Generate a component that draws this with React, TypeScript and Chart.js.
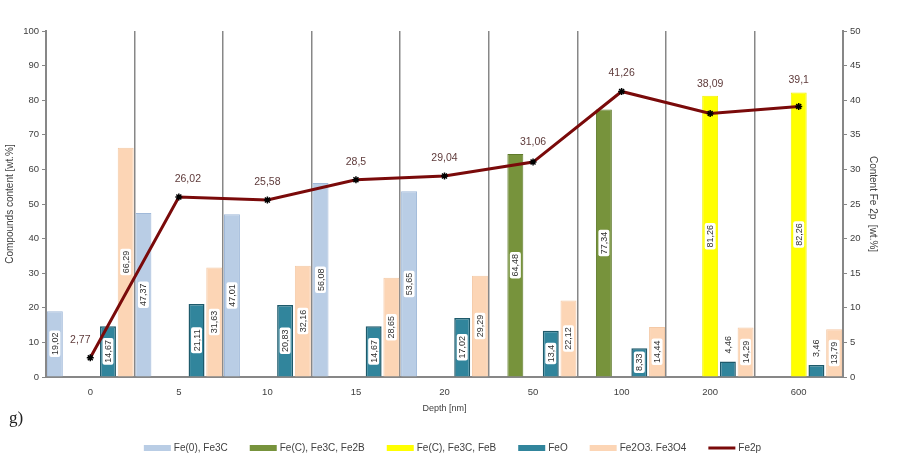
import React, { useEffect, useRef } from "react";
import { Chart, registerables } from "chart.js";

Chart.register(...registerables);

// Depth categories [nm]
const depths = ["0", "5", "10", "15", "20", "50", "100", "200", "600"];

// Compound contents [wt.%] per depth
const fe0Fe3C = [19.02, 47.37, 47.01, 56.08, 53.65, null, null, null, null];
const feCFe3CFe2B = [null, null, null, null, null, 64.48, 77.34, null, null];
const feCFe3CFeB = [null, null, null, null, null, null, null, 81.26, 82.26];
const feO = [14.67, 21.11, 20.83, 14.67, 17.02, 13.4, 8.33, 4.46, 3.46];
const fe2O3Fe3O4 = [66.29, 31.63, 32.16, 28.65, 29.29, 22.12, 14.44, 14.29, 13.79];

// Fe 2p content [wt.%] (right axis)
const fe2p = [2.77, 26.02, 25.58, 28.5, 29.04, 31.06, 41.26, 38.09, 39.1];

const leftAxisMax = 100;
const leftAxisStep = 10;
const rightAxisMax = 50;
const rightAxisStep = 5;

const SANS = '"Liberation Sans", Arial, sans-serif';
const TEXT = "#404040";
const AXIS = "#878787";

const fmt = (v: number) => String(v).replace(".", ",");

const barLabelPlugin = {
  id: "barLabels",
  afterDatasetsDraw(chart: any) {
    const ctx = chart.ctx;
    ctx.save();
    ctx.font = `9px ${SANS}`;
    ctx.textAlign = "center";
    ctx.textBaseline = "middle";
    chart.data.datasets.forEach((ds: any, i: number) => {
      if (ds.type !== "bar") return;
      const meta = chart.getDatasetMeta(i);
      meta.data.forEach((el: any, j: number) => {
        const v = ds.data[j];
        if (v == null) return;
        const { x, y, base } = el.getProps(["x", "y", "base"], true);
        const text = fmt(v);
        const w = ctx.measureText(text).width;
        const h = base - y;
        const cy = h >= w + 8 ? (y + base) / 2 : y - w / 2 - 8;
        ctx.save();
        ctx.translate(x, cy);
        ctx.rotate(-Math.PI / 2);
        ctx.fillStyle = "#ffffff";
        ctx.beginPath();
        (ctx as any).roundRect(-w / 2 - 2, -5.5, w + 4, 11, 2);
        ctx.fill();
        ctx.fillStyle = "#303030";
        ctx.fillText(text, 0, 0.5);
        ctx.restore();
      });
    });
    ctx.restore();
  },
};

const lineLabelPlugin = {
  id: "lineLabels",
  afterDatasetsDraw(chart: any) {
    const ctx = chart.ctx;
    const idx = chart.data.datasets.findIndex((d: any) => d.type === "line");
    if (idx < 0) return;
    const ds = chart.data.datasets[idx];
    const meta = chart.getDatasetMeta(idx);
    const shiftX = [-10, 9];
    ctx.save();
    ctx.font = `10.5px ${SANS}`;
    ctx.textAlign = "center";
    ctx.textBaseline = "middle";
    ctx.fillStyle = "#5e3a3a";
    meta.data.forEach((pt: any, j: number) => {
      const text = fmt(ds.data[j]);
      const w = ctx.measureText(text).width;
      const x = pt.x + (shiftX[j] || 0);
      let y = pt.y - 18;
      chart.data.datasets.forEach((b: any, i: number) => {
        if (b.type !== "bar" || b.data[j] == null) return;
        const el = chart.getDatasetMeta(i).data[j];
        const { x: bx, y: by, width: bw } = el.getProps(["x", "y", "width"], true);
        if (bx + bw / 2 > x - w / 2 && bx - bw / 2 < x + w / 2) {
          y = Math.min(y, by - 12);
        }
      });
      ctx.fillText(text, x, y);
    });
    ctx.restore();
  },
};

const legendPlugin = {
  id: "manualLegend",
  afterDraw(chart: any) {
    const ctx = chart.ctx;
    const boxW = 27;
    const gap = 3;
    const itemGap = 22;
    const cy = 448;
    ctx.save();
    ctx.font = `10px ${SANS}`;
    ctx.textBaseline = "middle";
    const items = chart.data.datasets.map((d: any) => ({
      label: d.label,
      color: d.type === "line" ? d.borderColor : d.backgroundColor,
      isLine: d.type === "line",
      w: ctx.measureText(d.label).width,
    }));
    const total =
      items.reduce((s: number, it: any) => s + boxW + gap + it.w, 0) + itemGap * (items.length - 1);
    let x = chart.width / 2 - total / 2 + 4;
    items.forEach((it: any) => {
      ctx.fillStyle = it.color;
      if (it.isLine) {
        ctx.fillRect(x, cy - 1.5, boxW, 3);
      } else {
        ctx.fillRect(x, cy - 3, boxW, 6);
      }
      ctx.fillStyle = TEXT;
      ctx.textAlign = "left";
      ctx.fillText(it.label, x + boxW + gap, cy);
      x += boxW + gap + it.w + itemGap;
    });
    // panel letter
    ctx.font = '17px "Liberation Serif", "Times New Roman", serif';
    ctx.fillStyle = "#222222";
    ctx.textBaseline = "alphabetic";
    ctx.fillText("g)", 9, 423);
    ctx.restore();
  },
};

export default function App() {
  const ref = useRef<HTMLCanvasElement | null>(null);

  useEffect(() => {
    if (!ref.current) return;
    const chart = new Chart(ref.current, {
      type: "bar",
      data: {
        labels: depths,
        datasets: [
          {
            type: "bar",
            label: "Fe(0), Fe3C",
            data: fe0Fe3C,
            backgroundColor: "#B9CDE5",
            borderColor: "#A0B9D9",
            borderWidth: 1,
            yAxisID: "y",
            order: 1,
          },
          {
            type: "bar",
            label: "Fe(C), Fe3C, Fe2B",
            data: feCFe3CFe2B,
            backgroundColor: "#77933C",
            borderColor: "#5F7A2B",
            borderWidth: 1,
            yAxisID: "y",
            order: 1,
          },
          {
            type: "bar",
            label: "Fe(C), Fe3C, FeB",
            data: feCFe3CFeB,
            backgroundColor: "#FFFF00",
            borderColor: "#F2F200",
            borderWidth: 1,
            yAxisID: "y",
            order: 1,
          },
          {
            type: "bar",
            label: "FeO",
            data: feO,
            backgroundColor: "#31859C",
            borderColor: "#1E5A6B",
            borderWidth: 1.5,
            yAxisID: "y",
            order: 1,
          },
          {
            type: "bar",
            label: "Fe2O3. Fe3O4",
            data: fe2O3Fe3O4,
            backgroundColor: "#FCD5B5",
            borderColor: "#F4C9A6",
            borderWidth: 1,
            yAxisID: "y",
            order: 1,
          },
          {
            type: "line",
            label: "Fe2p",
            data: fe2p,
            borderColor: "#7A0A0A",
            backgroundColor: "#7A0A0A",
            borderWidth: 3,
            pointStyle: "star",
            pointRadius: 3.5,
            pointBorderColor: "#000000",
            pointBackgroundColor: "#000000",
            pointBorderWidth: 1.5,
            yAxisID: "y1",
            order: 0,
          },
        ] as any,
      },
      options: {
        responsive: false,
        devicePixelRatio: 1,
        animation: false,
        layout: { padding: { top: 31, left: 0, right: 0, bottom: 23 } },
        datasets: {
          bar: { categoryPercentage: 1, barPercentage: 0.9 },
        },
        plugins: {
          legend: { display: false },
          tooltip: { enabled: false },
        },
        scales: {
          x: {
            grid: { offset: true, color: AXIS, lineWidth: 1.5, drawTicks: false },
            border: { color: AXIS, width: 2 },
            ticks: { color: TEXT, font: { family: SANS, size: 9.5 }, padding: 10 },
            title: {
              display: true,
              text: "Depth [nm]",
              color: TEXT,
              font: { family: SANS, size: 9 },
              padding: { top: 0, bottom: 25 },
            },
            afterFit: (s: any) => {
              s.height = 62;
            },
          },
          y: {
            position: "left",
            min: 0,
            max: leftAxisMax,
            ticks: { stepSize: leftAxisStep, color: TEXT, font: { family: SANS, size: 9.5 }, padding: 3 },
            grid: { drawOnChartArea: false, color: AXIS, tickLength: 4 },
            border: { color: AXIS, width: 2 },
            title: {
              display: true,
              text: "Compounds content [wt.%]",
              color: TEXT,
              font: { family: SANS, size: 10 },
              padding: { top: 4, bottom: 0 },
            },
            afterFit: (s: any) => {
              s.width = 46;
            },
          },
          y1: {
            position: "right",
            min: 0,
            max: rightAxisMax,
            ticks: { stepSize: rightAxisStep, color: TEXT, font: { family: SANS, size: 9.5 }, padding: 3 },
            grid: { drawOnChartArea: false, color: AXIS, tickLength: 4 },
            border: { color: AXIS, width: 2 },
            title: {
              display: true,
              text: "Content Fe 2p  [wt.%]",
              color: TEXT,
              font: { family: SANS, size: 10 },
              padding: { top: 18, bottom: 0 },
            },
            afterFit: (s: any) => {
              s.width = 54;
            },
          },
        },
      } as any,
      plugins: [barLabelPlugin, lineLabelPlugin, legendPlugin],
    });
    return () => chart.destroy();
  }, []);

  return (
    <div style={{ position: "fixed", left: 0, top: 0, width: 897, height: 462, background: "#ffffff" }}>
      <canvas ref={ref} width={897} height={462} />
    </div>
  );
}
